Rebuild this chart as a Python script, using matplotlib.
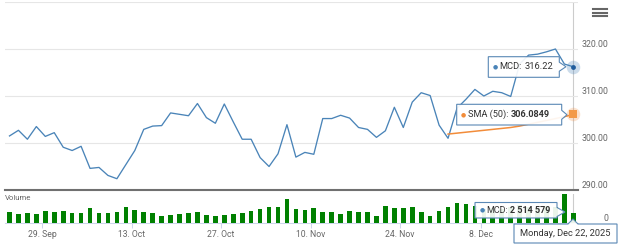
import matplotlib
matplotlib.use('Agg')
import matplotlib.pyplot as plt
import numpy as np
import pandas as pd
from matplotlib.patches import Polygon
from matplotlib.lines import Line2D

plt.rcParams['font.family'] = ['Roboto', 'DejaVu Sans']

# ---------------- data ----------------
dates = pd.bdate_range('2025-09-23', '2025-12-22', freq='C', holidays=['2025-11-27'])

close = [301.5, 302.7, 300.8, 303.5, 301.4, 302.2, 299.1, 298.4, 299.3, 294.6,
         294.8, 293.1, 292.4, 295.4, 298.4, 302.9, 303.6, 303.7, 306.4, 306.1,
         305.8, 308.4, 305.4, 304.2, 308.3, 304.5, 300.8, 300.8, 296.9, 295.0,
         297.7, 303.9, 297.0, 298.0, 297.6, 305.2, 305.2, 305.9, 305.3, 303.3,
         302.9, 301.2, 302.6, 307.6, 303.3, 308.7, 310.7, 310.1, 303.8, 301.0,
         307.4, 309.3, 311.4, 310.0, 311.0, 310.7, 309.9, 316.8, 318.7, 318.9,
         319.4, 320.0, 316.8, 316.22]

volume = [2940000, 2340000, 2520000, 2260000, 3190000, 2770000, 3190000, 2590000, 2520000, 3950000,
          2590000, 2590000, 2770000, 4200000, 3450000, 2940000, 2520000, 1940000, 2190000, 2340000,
          2590000, 2770000, 2090000, 1940000, 2190000, 2340000, 2590000, 3190000, 3600000, 4020000,
          4200000, 6110000, 3600000, 3340000, 3950000, 2770000, 2770000, 2340000, 3190000, 2770000,
          2770000, 1940000, 4350000, 3850000, 3770000, 4200000, 2770000, 1840000, 3190000, 4020000,
          5030000, 4780000, 4280000, 3520000, 3770000, 3520000, 4020000, 4530000, 4020000, 3770000,
          4280000, 4000000, 7370000, 2514579]

sma50 = [301.9, 302.1, 302.3, 302.5, 302.7, 302.9, 303.1, 303.3, 303.6, 304.0,
         304.4, 304.8, 305.2, 305.6, 306.0849]

tick_dates = ['2025-09-29', '2025-10-13', '2025-10-27', '2025-11-10', '2025-11-24', '2025-12-08']
tick_labels = ['29. Sep', '13. Oct', '27. Oct', '10. Nov', '24. Nov', '8. Dec']
price_ticks = [290, 300, 310, 320, 330]
price_tick_labels = ['290.00', '300.00', '310.00', '320.00', '']
volume_ticks = [0]
volume_tick_labels = ['0']

mcd_label = 'MCD:'
mcd_price_text = '316.22'
sma_label = 'SMA (50):'
sma_value_text = '306.0849'
vol_value_text = '2 514 579'
date_text = 'Monday, Dec 22, 2025'

# ---------------- style ----------------
W, H = 620, 246
LINE_C = '#4a84b8'
SMA_C = '#f28c3a'
BAR_C = '#008000'
GRID_C = '#e6e6e6'
LABEL_C = '#666666'
TIP_C = '#5a88b5'
TXT_C = '#333333'

fig = plt.figure(figsize=(W / 100, H / 100), dpi=100)

def fpos(x, y):
    return (x / W, 1 - y / H)

left = 4.7
right = 578.0
ax_p = fig.add_axes([left / W, 1 - 190 / H, (right - left) / W, 188 / H])
ax_v = fig.add_axes([left / W, 1 - 223.3 / H, (right - left) / W, 29.8 / H], sharex=ax_p)

x = np.arange(len(dates))
sma_x = x[len(close) - len(sma50):]

# price pane
ax_p.plot(x, close, color=LINE_C, lw=0.95, zorder=3)
ax_p.plot(sma_x, sma50, color=SMA_C, lw=1.1, zorder=3)
ax_p.set_ylim(290, 330)
ax_p.set_yticks(price_ticks)
ax_p.set_yticklabels(price_tick_labels)
ax_p.grid(axis='y', color=GRID_C, lw=0.8, zorder=0)
ax_p.axhline(290, color='#707070', lw=1.5, zorder=2, clip_on=False)
ax_p.axvline(x[-1], color='#cccccc', lw=0.8, zorder=1)
for s in ax_p.spines.values():
    s.set_visible(False)
ax_p.tick_params(axis='x', bottom=False, labelbottom=False)
ax_p.yaxis.tick_right()
ax_p.tick_params(axis='y', length=0, pad=21.6, labelsize=6.3, labelcolor=LABEL_C)
for lab in ax_p.get_yticklabels():
    lab.set_ha('right')
    lab.set_va('bottom')

# markers on last point
ax_p.scatter([x[-1]], [close[-1]], s=95, color=LINE_C, alpha=0.28, lw=0, zorder=5, clip_on=False)
ax_p.scatter([x[-1]], [close[-1]], s=12, color='#1f5c9c', lw=0, zorder=6, clip_on=False)
ax_p.scatter([sma_x[-1]], [sma50[-1]], s=95, color=SMA_C, alpha=0.25, lw=0, zorder=5, clip_on=False)
ax_p.scatter([sma_x[-1]], [sma50[-1]], s=30, marker='s', color='#f39a48', lw=0, zorder=6, clip_on=False)

# volume pane
ax_v.bar(x, volume, width=0.52, color=BAR_C, zorder=3)
ax_v.set_ylim(0, 7.5e6)
ax_v.set_yticks(volume_ticks)
ax_v.set_yticklabels(volume_tick_labels)
ax_v.axvline(x[-1], color='#cccccc', lw=0.8, zorder=1)
for k, s in ax_v.spines.items():
    s.set_visible(k == 'bottom')
ax_v.spines['bottom'].set_color('#ccd6eb')
ax_v.spines['bottom'].set_linewidth(0.75)
ax_v.yaxis.tick_right()
ax_v.tick_params(axis='y', length=0, pad=21.6, labelsize=6.3, labelcolor=LABEL_C)
for lab in ax_v.get_yticklabels():
    lab.set_ha('right')
    lab.set_va('bottom')

date_index = {d: i for i, d in enumerate(dates)}
tick_pos = [date_index[pd.Timestamp(d)] - 0.35 for d in tick_dates]
ax_v.set_xticks(tick_pos)
ax_v.set_xticklabels(tick_labels)
ax_v.tick_params(axis='x', length=3.6, width=0.75, color='#ccd6eb', labelsize=6.2,
                 labelcolor=LABEL_C, pad=1.5)
ax_v.set_xlim(-0.536, 63.52)

fig.text(*fpos(5, 197.5), 'Volume', fontsize=5.6, color=LABEL_C, va='center', ha='left')

# hamburger menu
for yy in (9.3, 12.7, 16.0):
    fig.add_artist(Line2D([593 / W, 607 / W], [1 - yy / H] * 2, color='#666666', lw=1.5,
                          transform=fig.transFigure))

# ---------------- callouts ----------------
def callout(x0, y0, x1, y1, tip, side='right'):
    tx, ty = tip
    if side == 'right':
        pts = [(x0, y0), (x1, y0), (x1, ty - 4.5), (tx, ty), (x1, ty + 4.5), (x1, y1), (x0, y1)]
    else:  # top
        pts = [(x0, y0), (tx - 5, y0), (tx, ty), (tx + 5, y0), (x1, y0), (x1, y1), (x0, y1)]
    poly = Polygon([fpos(px, py) for px, py in pts], closed=True, transform=fig.transFigure,
                   facecolor=(1, 1, 1, 0.92), edgecolor=TIP_C, lw=0.8, zorder=10)
    fig.add_artist(poly)

renderer = fig.canvas.get_renderer()

def rich(xp, yp, parts, size=6.7):
    cur = xp
    for text, color, weight, gap in parts:
        t = fig.text(*fpos(cur, yp), text, fontsize=size, color=color, fontweight=weight,
                     va='center', ha='left', zorder=11)
        bb = t.get_window_extent(renderer)
        cur = bb.x1 + gap

callout(488.3, 56.7, 559.3, 77.3, (566, 66.7))
rich(492.5, 66.8, [('●', LINE_C, 'normal', 0)], size=4.3)
rich(499.5, 66.8, [(mcd_label, TXT_C, 'normal', 2.6), (mcd_price_text, TXT_C, 'normal', 0)])

callout(456.7, 104.3, 561.7, 125.0, (567, 114.8))
rich(461.0, 114.7, [('●', SMA_C, 'normal', 0)], size=4.3)
rich(467.5, 114.7, [(sma_label, TXT_C, 'normal', 2.6), (sma_value_text, TXT_C, 'bold', 0)], size=6.6)

callout(475.0, 202.5, 557.0, 218.0, (565, 212))
rich(479.5, 210.4, [('●', LINE_C, 'normal', 0)], size=4.3)
rich(486.0, 210.4, [(mcd_label, TXT_C, 'normal', 2.6), (vol_value_text, TXT_C, 'bold', 0)], size=6.5)

callout(514.0, 224.0, 617.0, 243.0, (573, 219), side='top')
fig.text(*fpos(565.5, 233.6), date_text, fontsize=6.7, color=TXT_C, ha='center', va='center', zorder=11)

fig.savefig('out.png', dpi=100)
